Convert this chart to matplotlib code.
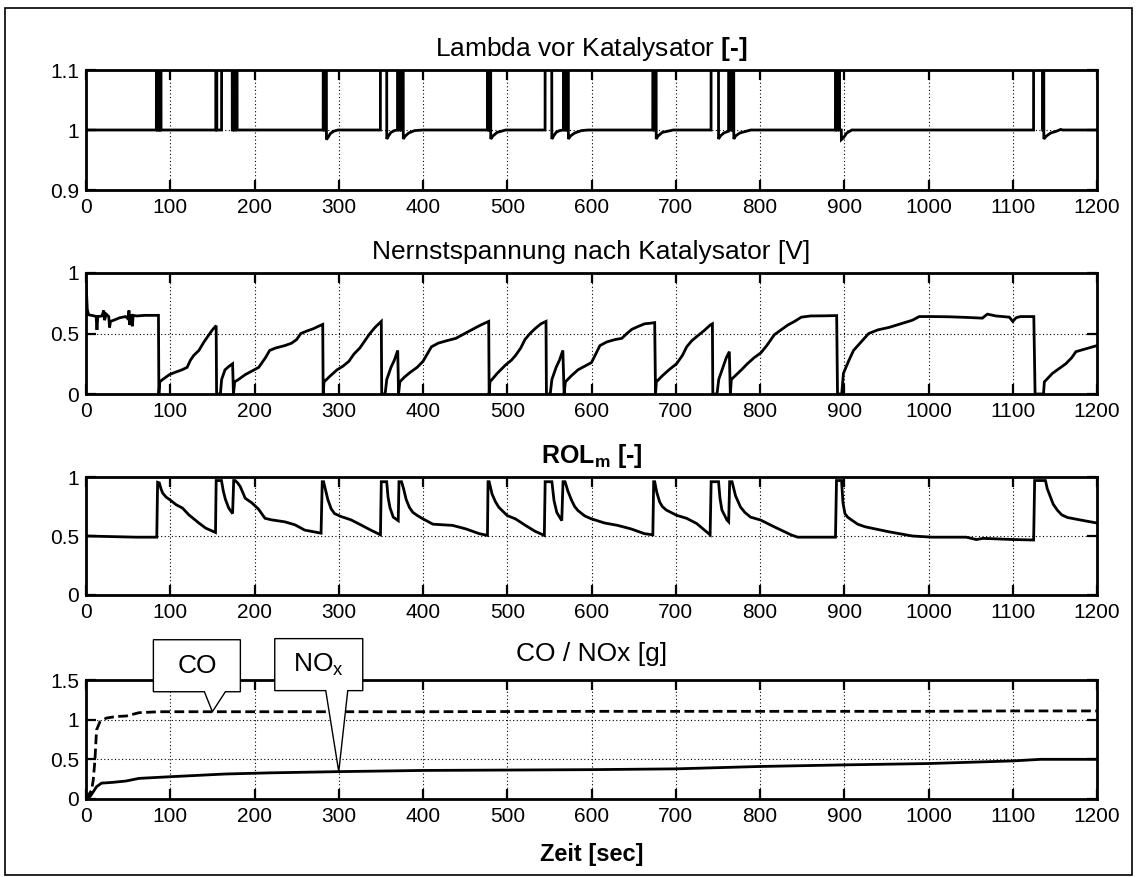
import numpy as np
import matplotlib
matplotlib.use("Agg")
import matplotlib.pyplot as plt
from matplotlib.patches import Polygon, Rectangle
from matplotlib.transforms import ScaledTranslation

plt.rcParams['font.family'] = ['Liberation Sans', 'DejaVu Sans']
plt.rcParams['mathtext.fontset'] = 'custom'
plt.rcParams['mathtext.rm'] = 'Liberation Sans'
plt.rcParams['mathtext.it'] = 'Liberation Sans:italic'
plt.rcParams['mathtext.bf'] = 'Liberation Sans:bold'

# ---------------------------------------------------------------- data
x_ticks = list(range(0, 1201, 100))
x_tick_labels = [str(v) for v in x_ticks]

# lambda upstream of the catalyst (values above 1.1 are off-scale lean phases)
lambda_t = [0, 83.5, 83.6, 85.0, 85.1, 85.9, 86.0, 87.2, 87.3, 88.0, 88.1, 89.0, 89.1,
            154.0, 154.1, 155.2, 155.3, 157.8, 157.9, 160.9, 161.0, 173.5, 173.6, 174.5, 174.6,
            176.0, 176.1, 177.0, 177.1, 179.3, 179.4,
            281.5, 281.6, 282.8, 282.9, 283.6, 283.7, 285.3, 285.4, 287, 290, 294, 299,
            349.4, 349.5, 356.9, 357.0, 359, 362, 366, 369.7, 369.8, 371.5, 371.6, 372.5, 372.6,
            374.2, 374.3, 375.0, 375.1, 376.5, 376.6, 379, 383, 390, 400,
            476.4, 476.5, 478.0, 478.1, 478.8, 478.9, 480.3, 480.4, 483, 488, 498,
            544.9, 545.0, 552.8, 552.9, 555, 558, 562, 566.6, 566.7, 568.3, 568.4, 569.2, 569.3,
            570.8, 570.9, 571.5, 571.6, 572.5, 572.6, 575, 580, 588, 596,
            672.7, 672.8, 674.3, 674.4, 675.1, 675.2, 676.7, 676.8, 679, 684, 697,
            741.9, 742.0, 750.7, 750.8, 753, 757, 762.7, 762.8, 764.5, 764.6, 765.4, 765.5, 767.2,
            767.3, 767.8, 767.9, 768.8, 768.9, 771, 776, 789,
            889.5, 889.6, 891.2, 891.3, 892.0, 892.1, 894.4, 894.5, 896.5, 896.6, 899, 903, 909,
            1124.7, 1124.8, 1135.5, 1135.6, 1136.0, 1136.1, 1136.8, 1136.9, 1140, 1145, 1152,
            1157, 1159, 1200]
lambda_v = [1.0, 1.0, 1.2, 1.2, 1.0, 1.0, 1.2, 1.2, 1.0, 1.0, 1.2, 1.2, 1.0,
            1.0, 1.2, 1.2, 1.0, 1.0, 1.0, 1.0, 1.2, 1.2, 1.0, 1.0, 1.2,
            1.2, 1.0, 1.0, 1.2, 1.2, 1.0,
            1.0, 1.2, 1.2, 1.0, 1.0, 1.2, 1.2, 0.984, 0.987, 0.994, 0.998, 1.0,
            1.0, 1.2, 1.2, 0.985, 0.99, 0.996, 0.999, 1.0, 1.2, 1.2, 1.0, 1.0, 1.2,
            1.2, 1.0, 1.0, 1.2, 1.2, 0.985, 0.99, 0.995, 0.999, 1.0,
            1.0, 1.2, 1.2, 1.0, 1.0, 1.2, 1.2, 0.985, 0.99, 0.996, 1.0,
            1.0, 1.2, 1.2, 0.985, 0.99, 0.996, 0.999, 1.0, 1.2, 1.2, 1.0, 1.0, 1.2,
            1.2, 1.0, 1.0, 1.2, 1.2, 0.985, 0.99, 0.995, 0.999, 1.0,
            1.0, 1.2, 1.2, 1.0, 1.0, 1.2, 1.2, 0.985, 0.99, 0.996, 1.0,
            1.0, 1.2, 1.2, 0.985, 0.99, 0.995, 0.998, 1.2, 1.2, 1.0, 1.0, 1.2, 1.2,
            1.0, 1.0, 1.2, 1.2, 0.985, 0.99, 0.995, 1.0,
            1.0, 1.2, 1.2, 1.0, 1.0, 1.2, 1.2, 1.0, 1.0, 0.984, 0.987, 0.995, 1.0,
            1.0, 1.2, 1.2, 1.0, 1.0, 1.2, 1.2, 0.985, 0.99, 0.995, 0.998,
            1.001, 1.0, 1.0]

# Nernst voltage downstream of the catalyst [V]
nernst_t = [0, 1.5, 3, 10, 12, 13, 14, 19, 21, 22, 24, 27, 28, 29, 33, 40, 47, 50, 51, 52, 53,
            55, 56, 60, 70, 86, 86.5, 87.5,
            91, 99, 106, 114, 120, 124, 128, 134, 140, 146, 150, 154.5, 155, 159.5, 161, 165, 170,
            174, 175, 176.5, 181, 189, 197, 205, 209, 213, 218, 225, 236, 244, 250, 255, 262, 270,
            276, 281, 281.5, 282.5, 290, 298, 305, 312, 318, 325, 331, 337, 343, 349, 350.5, 351,
            355, 357, 362, 366, 370, 371, 372.5, 378, 385, 393, 400, 405, 410, 418, 428, 439, 447,
            455, 463, 470, 478, 478.5, 479.5, 488, 498, 505, 510, 516, 521, 527, 533, 540, 546,
            546.5, 551, 553, 558, 562, 566, 567.5, 569, 576, 584, 592, 600, 605, 610, 618, 628,
            636, 642, 648, 656, 663, 670, 675, 676, 677, 684, 692, 701, 708, 713, 719, 725, 733,
            741, 743.5, 744, 749, 751, 756, 760, 763.6, 764.8, 766, 772, 778, 785, 793, 801, 808,
            817, 825, 833, 841, 849, 860, 875, 891, 892, 897, 899, 905, 911, 920, 929, 940, 953,
            967, 981, 989, 1005, 1025, 1045, 1064, 1068, 1070, 1080, 1096, 1100, 1104, 1109, 1125,
            1126.5, 1136.5, 1137.5, 1147, 1155, 1163, 1170, 1175, 1185, 1200]
nernst_v = [0.93, 0.70, 0.655, 0.645, 0.64, 0.53, 0.64, 0.645, 0.69, 0.61, 0.66, 0.64, 0.55,
            0.60, 0.61, 0.63, 0.64, 0.62, 0.69, 0.57, 0.66, 0.56, 0.65, 0.645, 0.65, 0.65, 0.0, 0.1,
            0.12, 0.16, 0.18, 0.2, 0.22, 0.28, 0.32, 0.36, 0.43, 0.49, 0.53, 0.565, 0.0, 0.0, 0.12,
            0.2, 0.23, 0.25, 0.0, 0.1, 0.12, 0.16, 0.19, 0.22, 0.26, 0.3, 0.36, 0.38, 0.40, 0.42,
            0.45, 0.50, 0.52, 0.54, 0.56, 0.575, 0.0, 0.1, 0.15, 0.2, 0.23, 0.27, 0.33, 0.38, 0.44,
            0.5, 0.55, 0.59, 0.6, 0.0, 0.0, 0.12, 0.22, 0.28, 0.36, 0.0, 0.1, 0.14, 0.18, 0.22,
            0.27, 0.33, 0.39, 0.42, 0.44, 0.46, 0.49, 0.52, 0.55, 0.575, 0.6, 0.0, 0.1, 0.17, 0.24,
            0.28, 0.32, 0.38, 0.45, 0.5, 0.54, 0.58, 0.6, 0.0, 0.0, 0.12, 0.22, 0.28, 0.36, 0.0,
            0.1, 0.15, 0.2, 0.23, 0.26, 0.33, 0.4, 0.43, 0.45, 0.46, 0.5, 0.535, 0.56, 0.58, 0.585,
            0.59, 0.0, 0.1, 0.15, 0.2, 0.25, 0.32, 0.39, 0.44, 0.475, 0.52, 0.57, 0.58, 0.0, 0.0,
            0.12, 0.22, 0.3, 0.35, 0.0, 0.12, 0.16, 0.2, 0.25, 0.3, 0.34, 0.4, 0.49, 0.53, 0.57,
            0.6, 0.635, 0.645, 0.646, 0.648, 0.0, 0.0, 0.17, 0.27, 0.36, 0.43, 0.5, 0.53, 0.55,
            0.58, 0.61, 0.64, 0.64, 0.638, 0.633, 0.627, 0.65, 0.66, 0.645, 0.635, 0.6, 0.63, 0.64,
            0.64, 0.0, 0.0, 0.1, 0.17, 0.21, 0.25, 0.3, 0.35, 0.37, 0.4]

# relative oxygen loading of the catalyst
rol_t = [0, 30, 60, 84, 85, 87, 89, 91, 95, 99, 107, 114.5, 122, 134, 142, 153.7, 154.5, 160.8,
         163, 165.5, 169.4, 174, 175.3, 177, 180, 183, 189, 197, 204.7, 212.5, 220, 236, 248,
         259.6, 279, 280.4, 282, 284, 287, 291, 295, 302.7, 314.5, 326, 338, 349.5, 350.5, 356.9,
         358.5, 360.8, 364.7, 370.6, 371.5, 374.5, 377, 380, 384, 388, 394, 400, 411.8, 435, 451,
         466.7, 476.5, 477.2, 478.5, 482, 486, 490, 500, 509.8, 521.6, 533, 544, 545, 553, 555.5,
         558.8, 564.7, 566.2, 568.6, 572, 576.5, 580, 584, 592, 600, 615.7, 631, 647, 662.7,
         672.8, 673.8, 675, 677.5, 680.8, 684, 688.8, 700.8, 712.8, 724.8, 740.8, 742, 750.8,
         752.5, 754.8, 760.8, 762.8, 764, 766.8, 771, 776.8, 782, 788.8, 800.8, 816.8, 836.8,
         844.8, 889.6, 890.8, 896.8, 898.5, 900.8, 904, 908.8, 916, 924.8, 952.8, 980.8, 1004.8,
         1044.8, 1056.8, 1064.8, 1100.8, 1124.8, 1126, 1138.8, 1141, 1144.8, 1148, 1152.8, 1158,
         1164.8, 1180.8, 1200]
rol_v = [0.5, 0.495, 0.49, 0.49, 0.955, 0.95, 0.9, 0.864, 0.83, 0.81, 0.765, 0.737, 0.68, 0.61,
         0.567, 0.53, 0.97, 0.97, 0.88, 0.81, 0.737, 0.69, 0.97, 0.97, 0.95, 0.92, 0.82, 0.78,
         0.728, 0.65, 0.637, 0.62, 0.595, 0.55, 0.524, 0.96, 0.96, 0.9, 0.81, 0.73, 0.69, 0.665,
         0.637, 0.595, 0.55, 0.51, 0.96, 0.96, 0.83, 0.74, 0.66, 0.63, 0.96, 0.96, 0.9, 0.81,
         0.74, 0.7, 0.67, 0.645, 0.6, 0.59, 0.56, 0.52, 0.505, 0.96, 0.96, 0.855, 0.79, 0.743,
         0.673, 0.645, 0.59, 0.54, 0.505, 0.96, 0.96, 0.8, 0.7, 0.63, 0.96, 0.96, 0.88, 0.8, 0.75,
         0.715, 0.67, 0.645, 0.61, 0.59, 0.56, 0.52, 0.51, 0.96, 0.96, 0.87, 0.79, 0.75, 0.72,
         0.676, 0.65, 0.606, 0.51, 0.96, 0.96, 0.82, 0.72, 0.635, 0.62, 0.96, 0.96, 0.84, 0.746,
         0.7, 0.66, 0.635, 0.578, 0.51, 0.49, 0.49, 0.97, 0.97, 0.78, 0.69, 0.66, 0.635, 0.6,
         0.578, 0.536, 0.5, 0.49, 0.49, 0.47, 0.48, 0.47, 0.466, 0.97, 0.97, 0.9, 0.83, 0.77,
         0.72, 0.68, 0.657, 0.635, 0.61]

# cumulated emissions [g]
co_t = [0, 3, 6.6, 8.6, 10.6, 12.5, 16.4, 24, 36, 47.7, 63, 87, 200, 400, 600, 800, 1000, 1100, 1200]
co_v = [0, 0.05, 0.11, 0.24, 0.49, 0.87, 0.97, 1.02, 1.04, 1.046, 1.088, 1.1, 1.1, 1.1, 1.105,
        1.105, 1.105, 1.11, 1.11]
nox_t = [0, 4.7, 8.6, 12.5, 18.4, 32, 47.7, 63, 98.6, 165, 220, 300, 400, 500, 600, 700, 800,
         900, 1000, 1100, 1133, 1200]
nox_v = [0, 0.03, 0.09, 0.155, 0.2, 0.21, 0.227, 0.26, 0.28, 0.315, 0.33, 0.345, 0.36, 0.365,
         0.37, 0.38, 0.41, 0.43, 0.447, 0.48, 0.5, 0.5]

callout_times = {"CO": 150, "NOx": 300}

# ---------------------------------------------------------------- figure
W, H = 1136, 877
fig = plt.figure(figsize=(W / 100, H / 100), dpi=100, facecolor='white')


def frac_axes(top_px, bottom_px, left_px=86, right_px=1097):
    return fig.add_axes([left_px / W, 1 - bottom_px / H,
                         (right_px - left_px) / W, (bottom_px - top_px) / H])


def style(ax, ylim, yticks, ylabels):
    ax.set_xlim(0, 1200)
    ax.set_ylim(*ylim)
    ax.set_xticks(x_ticks)
    ax.set_xticklabels(x_tick_labels)
    ax.set_yticks(yticks)
    ax.set_yticklabels(ylabels)
    ax.tick_params(direction='in', length=7, width=1.6, top=True, right=True,
                   labelsize=15, colors='black')
    ax.tick_params(axis='x', pad=6)
    ax.tick_params(axis='y', pad=5)
    ax.grid(True, color='black', linestyle=(0, (1, 2.2)), linewidth=0.8)
    ax.set_axisbelow(True)
    for s in ax.spines.values():
        s.set_linewidth(2)


line_kw = dict(color='black', lw=2, solid_joinstyle='miter')

ax1 = frac_axes(70, 190)
ax1.plot(lambda_t, lambda_v, **line_kw)
style(ax1, (0.9, 1.1), [0.9, 1.0, 1.1], ['0.9', '1', '1.1'])
ax1.set_title('Lambda vor Katalysator $\\mathbf{[\u2010]}$', fontsize=19, pad=10)

ax2 = frac_axes(273, 394)
ax2.plot(nernst_t, nernst_v, **line_kw)
style(ax2, (0, 1), [0, 0.5, 1], ['0', '0.5', '1'])
ax2.set_title('Nernstspannung nach Katalysator [V]', fontsize=19, pad=10)

ax3 = frac_axes(477, 595)
ax3.plot(rol_t, rol_v, **line_kw)
style(ax3, (0, 1), [0, 0.5, 1], ['0', '0.5', '1'])
ax3.set_title(r'ROL$_\mathbf{m}$ [-]', fontsize=18, fontweight='bold', pad=10)

ax4 = frac_axes(680, 799)
ax4.plot(co_t, co_v, color='black', lw=2, linestyle=(0, (3.5, 1.6)))
ax4.plot(nox_t, nox_v, **line_kw)
style(ax4, (0, 1.5), [0, 0.5, 1, 1.5], ['0', '0.5', '1', '1.5'])
ax4.set_title('CO / NOx [g]', fontsize=19, pad=14)
ax4.set_xlabel('Zeit [sec]', fontsize=17, fontweight='bold', labelpad=12)


# speech-bubble callouts pointing at the curves (offsets in pixels at 100 dpi)
def callout(ax, tx, ty, label, box, base, text_xy):
    left, right, bottom, top = box
    b0, b1 = base
    verts = [(0, 0), (b1, bottom), (right, bottom), (right, top), (left, top),
             (left, bottom), (b0, bottom)]
    verts = [(vx / 100, vy / 100) for vx, vy in verts]
    trans = fig.dpi_scale_trans + ScaledTranslation(tx, ty, ax.transData)
    poly = Polygon(verts, closed=True, facecolor='white', edgecolor='black', lw=1.0,
                   transform=trans, clip_on=False, zorder=10)
    ax.add_patch(poly)
    ax.text(text_xy[0] / 100, text_xy[1] / 100, label, transform=trans, fontsize=19,
            ha='center', va='center', zorder=11, clip_on=False)


co_tip = callout_times["CO"]
nox_tip = callout_times["NOx"]
callout(ax4, co_tip, np.interp(co_tip, co_t, co_v), 'CO',
        (-59, 28, 20, 72), (-8, 13), (-15, 46))
callout(ax4, nox_tip, np.interp(nox_tip, nox_t, nox_v), r'NO$_\mathrm{x}$',
        (-64, 24, 81, 133), (-13, 9), (-20, 107))

# frame around the whole figure
fig.add_artist(Rectangle((5 / W, 1 - 875 / H), (1132 - 5) / W, (875 - 8) / H,
                         transform=fig.transFigure, fill=False, lw=1.2, ec='black'))

fig.savefig('out.png', dpi=100, facecolor='white')
